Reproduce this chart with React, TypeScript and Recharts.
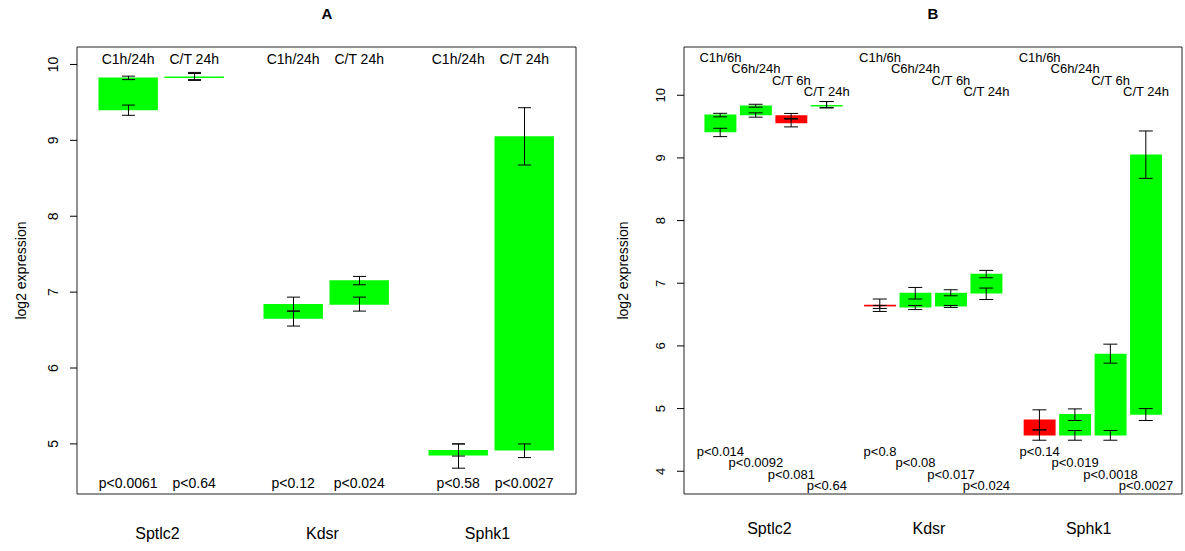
import React from 'react';
import {
  ComposedChart,
  Bar,
  Cell,
  Scatter,
  ErrorBar,
  XAxis,
  YAxis,
  ReferenceArea,
  LabelList,
  Label
} from 'recharts';

const FONT = '"Liberation Sans", Arial, Helvetica, sans-serif';
const UP = '#00ff00';
const DOWN = '#ff0000';

const genes = ['Sptlc2', 'Kdsr', 'Sphk1'];

// panel A: two contrasts per gene
const contrastsA = ['C1h/24h', 'C/T 24h'];
const startA = [9.395, 9.82, 6.649, 6.833, 4.846, 4.912];
const endA = [9.829, 9.842, 6.842, 7.158, 4.921, 9.053];
const startErrA = [[9.33, 9.465], [9.79, 9.88], [6.553, 6.75], [6.75, 6.934], [4.68, 5.0], [4.82, 5.0]];
const endErrA = [[9.8, 9.846], [9.8, 9.895], [6.75, 6.934], [7.097, 7.207], [4.84, 5.0], [8.675, 9.43]];
const pA = ['p<0.0061', 'p<0.64', 'p<0.12', 'p<0.024', 'p<0.58', 'p<0.0027'];
const ticksA = [5, 6, 7, 8, 9, 10];

// panel B: four contrasts per gene
const contrastsB = ['C1h/6h', 'C6h/24h', 'C/T 6h', 'C/T 24h'];
const startB = [9.409, 9.68, 9.68, 9.82, 6.657, 6.614, 6.63, 6.837, 4.824, 4.569, 4.569, 4.9];
const endB = [9.692, 9.835, 9.553, 9.846, 6.63, 6.848, 6.848, 7.152, 4.569, 4.915, 5.874, 9.053];
const startErrB = [
  [9.34, 9.473], [9.65, 9.72], [9.63, 9.71], [9.8, 9.9],
  [6.55, 6.748], [6.58, 6.646], [6.614, 6.646], [6.74, 6.923],
  [4.66, 4.98], [4.495, 4.65], [4.495, 4.65], [4.81, 5.0]
];
const endErrB = [
  [9.655, 9.712], [9.81, 9.856], [9.495, 9.62], [9.8, 9.9],
  [6.598, 6.646], [6.748, 6.933], [6.8, 6.896], [7.088, 7.205],
  [4.495, 4.66], [4.81, 4.995], [5.725, 6.028], [8.674, 9.43]
];
const pB = [
  'p<0.014', 'p<0.0092', 'p<0.081', 'p<0.64',
  'p<0.8', 'p<0.08', 'p<0.017', 'p<0.024',
  'p<0.14', 'p<0.019', 'p<0.0018', 'p<0.0027'
];
const ticksB = [4, 5, 6, 7, 8, 9, 10];

// R barplot style layout: bars of width 1, half-bar gap between genes
function buildRows(contrasts: string[], start: number[], end: number[], sErr: number[][], eErr: number[][], pv: string[]) {
  const n = contrasts.length;
  return start.map((s, i) => {
    const g = Math.floor(i / n);
    const k = i % n;
    const e = end[i];
    return {
      x: 1 + g * (n + 0.5) + k,
      k,
      contrast: contrasts[k],
      p: pv[i],
      start: s,
      end: e,
      up: e >= s,
      range: [Math.min(s, e), Math.max(s, e)],
      startErr: [s - sErr[i][0], sErr[i][1] - s],
      endErr: [e - eErr[i][0], eErr[i][1] - e]
    };
  });
}

function geneCenters(n: number) {
  return genes.map((_, g) => 1 + g * (n + 0.5) + (n - 1) / 2);
}

function xDomain(n: number): [number, number] {
  const w = genes.length * n + (genes.length - 1) * 0.5;
  return [0.5 - 0.04 * w, 0.5 + w + 0.04 * w];
}

const HEIGHT = 551;
const TOP = 47;
const XAXIS_H = 57;

const Panel = ({ cfg }: any) => {
  const { rows, n, width, yAxisWidth, marginRight, yDomain, ticks, fs, capHalf, topY, pY, geneDy, title, titleX, yLabelX, tickFs } = cfg;
  const xd = xDomain(n);
  const plotW = width - yAxisWidth - marginRight;
  const barSize = plotW / (xd[1] - xd[0]);
  const centers = geneCenters(n);
  const plotMidY = TOP + (HEIGHT - TOP - XAXIS_H) / 2;

  const topLabel = (props: any) => {
    const vb = props.viewBox || props;
    const k = rows[props.index].k;
    return (
      <text x={vb.x + vb.width / 2} y={topY[k % topY.length]} textAnchor="middle" fontFamily={FONT} fontSize={fs} fill="#000">
        {props.value}
      </text>
    );
  };
  const pLabel = (props: any) => {
    const vb = props.viewBox || props;
    const k = rows[props.index].k;
    return (
      <text x={vb.x + vb.width / 2} y={pY[k % pY.length]} textAnchor="middle" fontFamily={FONT} fontSize={fs} fill="#000">
        {props.value}
      </text>
    );
  };

  const yTick = (props: any) => {
    const { x, y, payload } = props;
    const bx = x - 12;
    return (
      <text x={bx} y={y} transform={`rotate(-90, ${bx}, ${y})`} textAnchor="middle" fontFamily={FONT} fontSize={tickFs} fill="#000">
        {payload.value}
      </text>
    );
  };

  const geneTick = (props: any) => {
    const { x, y, index } = props;
    return (
      <text x={x - 4} y={y + geneDy} textAnchor="middle" fontFamily={FONT} fontSize={16} fill="#000">
        {genes[index]}
      </text>
    );
  };

  return (
    <ComposedChart
      width={width}
      height={HEIGHT}
      data={rows}
      margin={{ top: TOP, right: marginRight, left: 0, bottom: 0 }}
    >
      <XAxis
        dataKey="x"
        type="number"
        domain={xd}
        allowDataOverflow
        ticks={centers}
        interval={0}
        axisLine={false}
        tickLine={false}
        tickSize={0}
        tickMargin={0}
        height={XAXIS_H}
        tick={geneTick}
      />
      <YAxis
        type="number"
        domain={yDomain}
        allowDataOverflow
        ticks={ticks}
        interval={0}
        width={yAxisWidth}
        axisLine={false}
        tickLine={{ stroke: '#000' }}
        tickSize={7}
        tickMargin={0}
        tick={yTick}
      >
        <Label
          content={() => (
            <text
              x={yLabelX}
              y={plotMidY}
              transform={`rotate(-90, ${yLabelX}, ${plotMidY})`}
              textAnchor="middle"
              fontFamily={FONT}
              fontSize={14}
              fill="#000"
            >
              log2 expression
            </text>
          )}
        />
      </YAxis>
      <ReferenceArea
        x1={xd[0]}
        x2={xd[1]}
        y1={yDomain[0]}
        y2={yDomain[1]}
        fill="none"
        fillOpacity={0}
        stroke="#222"
        strokeWidth={1}
        ifOverflow="visible"
        label={
          <Label
            content={() => (
              <text x={titleX} y={19} textAnchor="middle" fontFamily={FONT} fontSize={15} fontWeight="bold" fill="#000">
                {title}
              </text>
            )}
          />
        }
      />
      <Bar dataKey="range" barSize={barSize} isAnimationActive={false}>
        {rows.map((r: any, i: number) => (
          <Cell key={i} fill={r.up ? UP : DOWN} />
        ))}
        <LabelList dataKey="contrast" content={topLabel} />
        <LabelList dataKey="p" content={pLabel} />
      </Bar>
      <Scatter dataKey="start" isAnimationActive={false} shape={() => <g />}>
        <ErrorBar dataKey="startErr" direction="y" width={capHalf} stroke="#000" strokeWidth={1} isAnimationActive={false} />
      </Scatter>
      <Scatter dataKey="end" isAnimationActive={false} shape={() => <g />}>
        <ErrorBar dataKey="endErr" direction="y" width={capHalf} stroke="#000" strokeWidth={1} isAnimationActive={false} />
      </Scatter>
    </ComposedChart>
  );
};

const rowsA = buildRows(contrastsA, startA, endA, startErrA, endErrA, pA);
const rowsB = buildRows(contrastsB, startB, endB, startErrB, endErrB, pB);

const cfgA = {
  rows: rowsA,
  n: contrastsA.length,
  width: 595,
  yAxisWidth: 77,
  marginRight: 19,
  yDomain: [4.34, 10.23],
  ticks: ticksA,
  fs: 14,
  tickFs: 14,
  capHalf: 6.5,
  topY: [64],
  pY: [488],
  geneDy: 45,
  title: 'A',
  titleX: 327,
  yLabelX: 26
};

const cfgB = {
  rows: rowsB,
  n: contrastsB.length,
  width: 590,
  yAxisWidth: 89,
  marginRight: 3,
  yDomain: [3.637, 10.77],
  ticks: ticksB,
  fs: 13,
  tickFs: 13,
  capHalf: 7,
  topY: [62, 73, 85, 96],
  pY: [456, 467, 479, 490],
  geneDy: 40,
  title: 'B',
  titleX: 338,
  yLabelX: 33
};

export default function App() {
  return (
    <div style={{ position: 'absolute', left: 0, top: 0, width: 1185, height: 551, background: '#fff' }}>
      <div style={{ position: 'absolute', left: 0, top: 0 }}>
        <Panel cfg={cfgA} />
      </div>
      <div style={{ position: 'absolute', left: 595, top: 0 }}>
        <Panel cfg={cfgB} />
      </div>
    </div>
  );
}
